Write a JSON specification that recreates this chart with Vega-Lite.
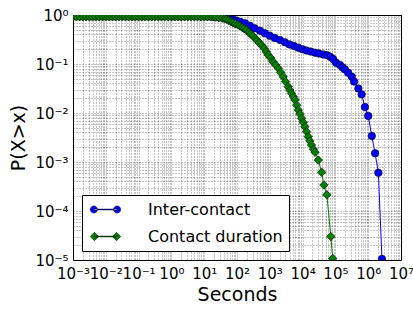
{
  "$schema": "https://vega.github.io/schema/vega-lite/v6.json",
  "width": 328,
  "height": 245,
  "autosize": {"type": "none"},
  "padding": {"left": 73, "top": 15, "right": 12, "bottom": 50},
  "config": {
    "font": "DejaVu Sans",
    "view": {"stroke": "#000", "strokeWidth": 1},
    "axis": {
      "grid": true,
      "gridDash": [1, 2],
      "gridColor": "#000",
      "gridOpacity": 0.45,
      "gridWidth": 1,
      "ticks": false,
      "domain": false,
      "labelFontSize": 15,
      "labelColor": "#000",
      "titleFontSize": 19,
      "titleFontWeight": "normal",
      "titleColor": "#000",
      "labelOverlap": false,
      "labelFlush": false,
      "labelBound": false,
      "labelExpr": "(abs(log(datum.value)/LN10 - round(log(datum.value)/LN10)) < 0.01) ? ('10' + (round(log(datum.value)/LN10) < 0 ? '⁻' : '') + substring('⁰¹²³⁴⁵⁶⁷⁸⁹', abs(round(log(datum.value)/LN10)), abs(round(log(datum.value)/LN10)) + 1)) : ''"
    }
  },
  "data": {
    "values": [
      {"series": "Inter-contact", "x": 0.001, "y": 0.94},
      {"series": "Inter-contact", "x": 0.001259, "y": 0.94},
      {"series": "Inter-contact", "x": 0.001585, "y": 0.94},
      {"series": "Inter-contact", "x": 0.001995, "y": 0.94},
      {"series": "Inter-contact", "x": 0.002512, "y": 0.94},
      {"series": "Inter-contact", "x": 0.003162, "y": 0.94},
      {"series": "Inter-contact", "x": 0.003981, "y": 0.94},
      {"series": "Inter-contact", "x": 0.005012, "y": 0.94},
      {"series": "Inter-contact", "x": 0.00631, "y": 0.94},
      {"series": "Inter-contact", "x": 0.007943, "y": 0.94},
      {"series": "Inter-contact", "x": 0.01, "y": 0.94},
      {"series": "Inter-contact", "x": 0.01259, "y": 0.94},
      {"series": "Inter-contact", "x": 0.01585, "y": 0.94},
      {"series": "Inter-contact", "x": 0.01995, "y": 0.94},
      {"series": "Inter-contact", "x": 0.02512, "y": 0.94},
      {"series": "Inter-contact", "x": 0.03162, "y": 0.94},
      {"series": "Inter-contact", "x": 0.03981, "y": 0.94},
      {"series": "Inter-contact", "x": 0.05012, "y": 0.94},
      {"series": "Inter-contact", "x": 0.0631, "y": 0.94},
      {"series": "Inter-contact", "x": 0.07943, "y": 0.94},
      {"series": "Inter-contact", "x": 0.1, "y": 0.94},
      {"series": "Inter-contact", "x": 0.1259, "y": 0.94},
      {"series": "Inter-contact", "x": 0.1585, "y": 0.94},
      {"series": "Inter-contact", "x": 0.1995, "y": 0.94},
      {"series": "Inter-contact", "x": 0.2512, "y": 0.94},
      {"series": "Inter-contact", "x": 0.3162, "y": 0.94},
      {"series": "Inter-contact", "x": 0.3981, "y": 0.94},
      {"series": "Inter-contact", "x": 0.5012, "y": 0.94},
      {"series": "Inter-contact", "x": 0.631, "y": 0.94},
      {"series": "Inter-contact", "x": 0.7943, "y": 0.94},
      {"series": "Inter-contact", "x": 1, "y": 0.94},
      {"series": "Inter-contact", "x": 1.259, "y": 0.94},
      {"series": "Inter-contact", "x": 1.585, "y": 0.94},
      {"series": "Inter-contact", "x": 1.995, "y": 0.94},
      {"series": "Inter-contact", "x": 2.512, "y": 0.94},
      {"series": "Inter-contact", "x": 3.162, "y": 0.94},
      {"series": "Inter-contact", "x": 3.981, "y": 0.94},
      {"series": "Inter-contact", "x": 5.012, "y": 0.94},
      {"series": "Inter-contact", "x": 6.31, "y": 0.94},
      {"series": "Inter-contact", "x": 7.943, "y": 0.94},
      {"series": "Inter-contact", "x": 10, "y": 0.94},
      {"series": "Inter-contact", "x": 12.59, "y": 0.94},
      {"series": "Inter-contact", "x": 15.85, "y": 0.935},
      {"series": "Inter-contact", "x": 19.95, "y": 0.93},
      {"series": "Inter-contact", "x": 25.12, "y": 0.927},
      {"series": "Inter-contact", "x": 31.62, "y": 0.923},
      {"series": "Inter-contact", "x": 41.69, "y": 0.891},
      {"series": "Inter-contact", "x": 54.95, "y": 0.851},
      {"series": "Inter-contact", "x": 72.44, "y": 0.813},
      {"series": "Inter-contact", "x": 93.33, "y": 0.773},
      {"series": "Inter-contact", "x": 123.0, "y": 0.73},
      {"series": "Inter-contact", "x": 173.8, "y": 0.678},
      {"series": "Inter-contact", "x": 245.5, "y": 0.605},
      {"series": "Inter-contact", "x": 346.7, "y": 0.536},
      {"series": "Inter-contact", "x": 501.2, "y": 0.479},
      {"series": "Inter-contact", "x": 707.9, "y": 0.424},
      {"series": "Inter-contact", "x": 1000, "y": 0.378},
      {"series": "Inter-contact", "x": 1413, "y": 0.34},
      {"series": "Inter-contact", "x": 2042, "y": 0.309},
      {"series": "Inter-contact", "x": 2884, "y": 0.277},
      {"series": "Inter-contact", "x": 3981, "y": 0.251},
      {"series": "Inter-contact", "x": 5495, "y": 0.232},
      {"series": "Inter-contact", "x": 7413, "y": 0.215},
      {"series": "Inter-contact", "x": 10000, "y": 0.1995},
      {"series": "Inter-contact", "x": 13180, "y": 0.188},
      {"series": "Inter-contact", "x": 17780, "y": 0.179},
      {"series": "Inter-contact", "x": 23990, "y": 0.17},
      {"series": "Inter-contact", "x": 31620, "y": 0.164},
      {"series": "Inter-contact", "x": 42660, "y": 0.157},
      {"series": "Inter-contact", "x": 54950, "y": 0.151},
      {"series": "Inter-contact", "x": 69180, "y": 0.141},
      {"series": "Inter-contact", "x": 85110, "y": 0.126},
      {"series": "Inter-contact", "x": 104700, "y": 0.1064},
      {"series": "Inter-contact", "x": 138000, "y": 0.0955},
      {"series": "Inter-contact", "x": 166000, "y": 0.0851},
      {"series": "Inter-contact", "x": 195000, "y": 0.0776},
      {"series": "Inter-contact", "x": 245500, "y": 0.0661},
      {"series": "Inter-contact", "x": 316200, "y": 0.055},
      {"series": "Inter-contact", "x": 371500, "y": 0.0437},
      {"series": "Inter-contact", "x": 501200, "y": 0.0316},
      {"series": "Inter-contact", "x": 631000, "y": 0.024},
      {"series": "Inter-contact", "x": 794300, "y": 0.0132},
      {"series": "Inter-contact", "x": 1000000, "y": 0.00871},
      {"series": "Inter-contact", "x": 1288000, "y": 0.00339},
      {"series": "Inter-contact", "x": 1622000, "y": 0.00151},
      {"series": "Inter-contact", "x": 2042000, "y": 0.000603},
      {"series": "Inter-contact", "x": 2630000, "y": 0.0000105},
      {"series": "Contact duration", "x": 0.001, "y": 0.925},
      {"series": "Contact duration", "x": 0.001259, "y": 0.925},
      {"series": "Contact duration", "x": 0.001585, "y": 0.925},
      {"series": "Contact duration", "x": 0.001995, "y": 0.925},
      {"series": "Contact duration", "x": 0.002512, "y": 0.925},
      {"series": "Contact duration", "x": 0.003162, "y": 0.925},
      {"series": "Contact duration", "x": 0.003981, "y": 0.925},
      {"series": "Contact duration", "x": 0.005012, "y": 0.925},
      {"series": "Contact duration", "x": 0.00631, "y": 0.925},
      {"series": "Contact duration", "x": 0.007943, "y": 0.925},
      {"series": "Contact duration", "x": 0.01, "y": 0.925},
      {"series": "Contact duration", "x": 0.01259, "y": 0.925},
      {"series": "Contact duration", "x": 0.01585, "y": 0.925},
      {"series": "Contact duration", "x": 0.01995, "y": 0.925},
      {"series": "Contact duration", "x": 0.02512, "y": 0.925},
      {"series": "Contact duration", "x": 0.03162, "y": 0.925},
      {"series": "Contact duration", "x": 0.03981, "y": 0.925},
      {"series": "Contact duration", "x": 0.05012, "y": 0.925},
      {"series": "Contact duration", "x": 0.0631, "y": 0.925},
      {"series": "Contact duration", "x": 0.07943, "y": 0.925},
      {"series": "Contact duration", "x": 0.1, "y": 0.925},
      {"series": "Contact duration", "x": 0.1259, "y": 0.925},
      {"series": "Contact duration", "x": 0.1585, "y": 0.925},
      {"series": "Contact duration", "x": 0.1995, "y": 0.925},
      {"series": "Contact duration", "x": 0.2512, "y": 0.925},
      {"series": "Contact duration", "x": 0.3162, "y": 0.925},
      {"series": "Contact duration", "x": 0.3981, "y": 0.925},
      {"series": "Contact duration", "x": 0.5012, "y": 0.925},
      {"series": "Contact duration", "x": 0.631, "y": 0.925},
      {"series": "Contact duration", "x": 0.7943, "y": 0.925},
      {"series": "Contact duration", "x": 1, "y": 0.925},
      {"series": "Contact duration", "x": 1.259, "y": 0.925},
      {"series": "Contact duration", "x": 1.585, "y": 0.925},
      {"series": "Contact duration", "x": 1.995, "y": 0.925},
      {"series": "Contact duration", "x": 2.512, "y": 0.925},
      {"series": "Contact duration", "x": 3.162, "y": 0.925},
      {"series": "Contact duration", "x": 3.981, "y": 0.925},
      {"series": "Contact duration", "x": 5.012, "y": 0.925},
      {"series": "Contact duration", "x": 6.31, "y": 0.925},
      {"series": "Contact duration", "x": 7.943, "y": 0.925},
      {"series": "Contact duration", "x": 10, "y": 0.925},
      {"series": "Contact duration", "x": 12.59, "y": 0.925},
      {"series": "Contact duration", "x": 15.85, "y": 0.925},
      {"series": "Contact duration", "x": 18.62, "y": 0.922},
      {"series": "Contact duration", "x": 22.39, "y": 0.902},
      {"series": "Contact duration", "x": 28.18, "y": 0.881},
      {"series": "Contact duration", "x": 35.48, "y": 0.861},
      {"series": "Contact duration", "x": 41.69, "y": 0.836},
      {"series": "Contact duration", "x": 47.86, "y": 0.817},
      {"series": "Contact duration", "x": 56.23, "y": 0.776},
      {"series": "Contact duration", "x": 66.07, "y": 0.733},
      {"series": "Contact duration", "x": 75.86, "y": 0.698},
      {"series": "Contact duration", "x": 89.13, "y": 0.661},
      {"series": "Contact duration", "x": 104.7, "y": 0.631},
      {"series": "Contact duration", "x": 123.0, "y": 0.597},
      {"series": "Contact duration", "x": 144.5, "y": 0.556},
      {"series": "Contact duration", "x": 166.0, "y": 0.525},
      {"series": "Contact duration", "x": 195.0, "y": 0.494},
      {"series": "Contact duration", "x": 229.1, "y": 0.447},
      {"series": "Contact duration", "x": 263.0, "y": 0.407},
      {"series": "Contact duration", "x": 309.0, "y": 0.372},
      {"series": "Contact duration", "x": 363.1, "y": 0.331},
      {"series": "Contact duration", "x": 416.9, "y": 0.302},
      {"series": "Contact duration", "x": 478.6, "y": 0.269},
      {"series": "Contact duration", "x": 562.3, "y": 0.24},
      {"series": "Contact duration", "x": 676.1, "y": 0.209},
      {"series": "Contact duration", "x": 776.2, "y": 0.178},
      {"series": "Contact duration", "x": 891.3, "y": 0.153},
      {"series": "Contact duration", "x": 1072, "y": 0.132},
      {"series": "Contact duration", "x": 1259, "y": 0.1117},
      {"series": "Contact duration", "x": 1514, "y": 0.0955},
      {"series": "Contact duration", "x": 1820, "y": 0.0817},
      {"series": "Contact duration", "x": 2138, "y": 0.0676},
      {"series": "Contact duration", "x": 2570, "y": 0.0551},
      {"series": "Contact duration", "x": 3020, "y": 0.0437},
      {"series": "Contact duration", "x": 3631, "y": 0.0344},
      {"series": "Contact duration", "x": 4074, "y": 0.0295},
      {"series": "Contact duration", "x": 4571, "y": 0.0252},
      {"series": "Contact duration", "x": 5248, "y": 0.0214},
      {"series": "Contact duration", "x": 5888, "y": 0.0184},
      {"series": "Contact duration", "x": 6607, "y": 0.01445},
      {"series": "Contact duration", "x": 7413, "y": 0.0115},
      {"series": "Contact duration", "x": 8318, "y": 0.00955},
      {"series": "Contact duration", "x": 9333, "y": 0.00778},
      {"series": "Contact duration", "x": 10470, "y": 0.00646},
      {"series": "Contact duration", "x": 11750, "y": 0.00526},
      {"series": "Contact duration", "x": 13180, "y": 0.00417},
      {"series": "Contact duration", "x": 14790, "y": 0.00329},
      {"series": "Contact duration", "x": 16600, "y": 0.00269},
      {"series": "Contact duration", "x": 18620, "y": 0.00222},
      {"series": "Contact duration", "x": 21380, "y": 0.00182},
      {"series": "Contact duration", "x": 23990, "y": 0.00158},
      {"series": "Contact duration", "x": 30200, "y": 0.001096},
      {"series": "Contact duration", "x": 38020, "y": 0.000617},
      {"series": "Contact duration", "x": 44670, "y": 0.000339},
      {"series": "Contact duration", "x": 54950, "y": 0.000214},
      {"series": "Contact duration", "x": 72440, "y": 0.0000302},
      {"series": "Contact duration", "x": 83180, "y": 0.0000107}
    ]
  },
  "encoding": {
    "x": {
      "field": "x", "type": "quantitative",
      "scale": {"type": "log", "domain": [0.001, 10000000], "nice": false},
      "axis": {
        "title": "Seconds",
        "labelPadding": 6,
        "titlePadding": 4,
        "values": [0.001,0.002,0.003,0.004,0.005,0.006,0.007,0.008,0.009,0.01,0.02,0.03,0.04,0.05,0.06,0.07,0.08,0.09,0.1,0.2,0.3,0.4,0.5,0.6,0.7,0.8,0.9,1,2,3,4,5,6,7,8,9,10,20,30,40,50,60,70,80,90,100,200,300,400,500,600,700,800,900,1000,2000,3000,4000,5000,6000,7000,8000,9000,10000,20000,30000,40000,50000,60000,70000,80000,90000,100000,200000,300000,400000,500000,600000,700000,800000,900000,1000000,2000000,3000000,4000000,5000000,6000000,7000000,8000000,9000000,10000000]
      }
    },
    "y": {
      "field": "y", "type": "quantitative",
      "scale": {"type": "log", "domain": [0.00001, 1], "nice": false},
      "axis": {
        "title": "P(X>x)",
        "labelPadding": 5,
        "titlePadding": 6,
        "values": [0.00001,0.00002,0.00003,0.00004,0.00005,0.00006,0.00007,0.00008,0.00009,0.0001,0.0002,0.0003,0.0004,0.0005,0.0006,0.0007,0.0008,0.0009,0.001,0.002,0.003,0.004,0.005,0.006,0.007,0.008,0.009,0.01,0.02,0.03,0.04,0.05,0.06,0.07,0.08,0.09,0.1,0.2,0.3,0.4,0.5,0.6,0.7,0.8,0.9,1]
      }
    }
  },
  "layer": [
    {
      "transform": [{"filter": "datum.series == 'Inter-contact'"}],
      "mark": {"type": "line", "color": "#0000ff", "strokeWidth": 1, "clip": true}
    },
    {
      "transform": [{"filter": "datum.series == 'Inter-contact'"}],
      "mark": {"type": "point", "shape": "circle", "filled": true, "size": 56, "stroke": "#000", "strokeWidth": 0.6, "opacity": 1, "clip": true},
      "encoding": {
        "color": {
          "field": "series", "type": "nominal",
          "scale": {"domain": ["Inter-contact", "Contact duration"], "range": ["#0000ff", "#008000"]},
          "legend": {
            "title": null,
            "orient": "none",
            "legendX": 9,
            "legendY": 180,
            "padding": 6,
            "rowPadding": 10,
            "fillColor": "#fff",
            "strokeColor": "#000",
            "symbolSize": 256,
            "symbolOffset": 9,
            "labelOffset": 34,
            "labelFontSize": 16,
            "labelColor": "#000",
            "symbolStrokeColor": "#000",
            "symbolStrokeWidth": 0.5,
            "symbolOpacity": 1,
            "encode": {
              "symbols": {
                "update": {
                  "shape": {"signal": "datum.value == 'Inter-contact' ? 'M-1.455,-0.05L1.455,-0.05L1.455,0.05L-1.455,0.05Z M-1.905,0A0.45,0.45 0 1,0 -1.005,0A0.45,0.45 0 1,0 -1.905,0Z M1.005,0A0.45,0.45 0 1,0 1.905,0A0.45,0.45 0 1,0 1.005,0Z' : 'M-1.375,-0.05L1.375,-0.05L1.375,0.05L-1.375,0.05Z M-1.905,0L-1.375,-0.53L-0.845,0L-1.375,0.53Z M0.845,0L1.375,-0.53L1.905,0L1.375,0.53Z'"}
                }
              }
            }
          }
        }
      }
    },
    {
      "transform": [{"filter": "datum.series == 'Contact duration'"}],
      "mark": {"type": "line", "color": "#008000", "strokeWidth": 1, "clip": true}
    },
    {
      "transform": [{"filter": "datum.series == 'Contact duration'"}],
      "mark": {"type": "point", "shape": "diamond", "filled": true, "size": 72, "stroke": "#000", "strokeWidth": 0.6, "opacity": 1, "clip": true},
      "encoding": {
        "color": {
          "field": "series", "type": "nominal",
          "scale": {"domain": ["Inter-contact", "Contact duration"], "range": ["#0000ff", "#008000"]},
          "legend": {
            "title": null,
            "orient": "none",
            "legendX": 9,
            "legendY": 180,
            "padding": 6,
            "rowPadding": 10,
            "fillColor": "#fff",
            "strokeColor": "#000",
            "symbolSize": 256,
            "symbolOffset": 9,
            "labelOffset": 34,
            "labelFontSize": 16,
            "labelColor": "#000",
            "symbolStrokeColor": "#000",
            "symbolStrokeWidth": 0.5,
            "symbolOpacity": 1,
            "encode": {
              "symbols": {
                "update": {
                  "shape": {"signal": "datum.value == 'Inter-contact' ? 'M-1.455,-0.05L1.455,-0.05L1.455,0.05L-1.455,0.05Z M-1.905,0A0.45,0.45 0 1,0 -1.005,0A0.45,0.45 0 1,0 -1.905,0Z M1.005,0A0.45,0.45 0 1,0 1.905,0A0.45,0.45 0 1,0 1.005,0Z' : 'M-1.375,-0.05L1.375,-0.05L1.375,0.05L-1.375,0.05Z M-1.905,0L-1.375,-0.53L-0.845,0L-1.375,0.53Z M0.845,0L1.375,-0.53L1.905,0L1.375,0.53Z'"}
                }
              }
            }
          }
        }
      }
    }
  ]
}
